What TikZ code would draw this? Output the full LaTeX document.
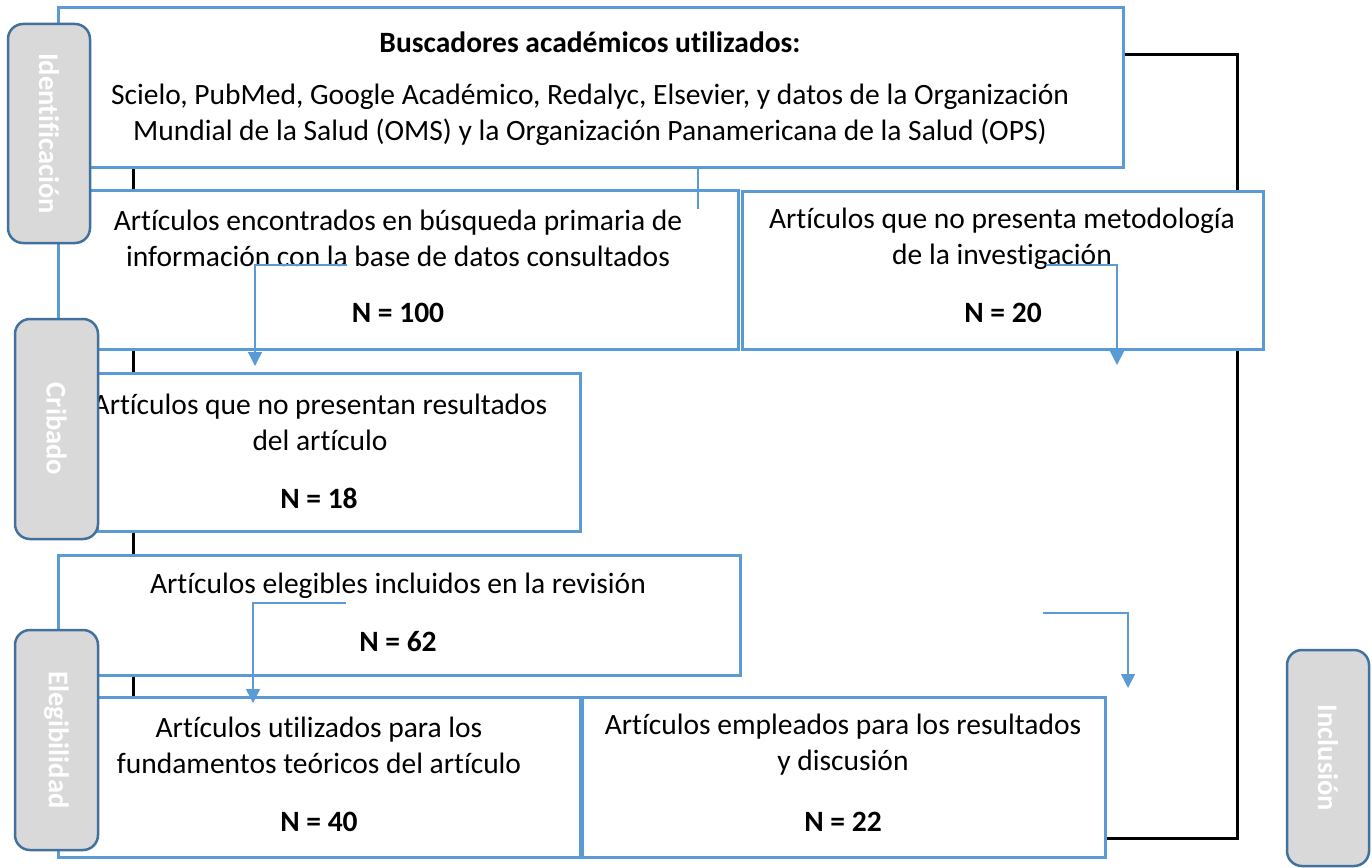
\documentclass[tikz,border=0pt]{standalone}
\usepackage{fontspec}
\setmainfont[Ligatures={NoCommon}]{Carlito}
\usetikzlibrary{arrows.meta}
\definecolor{boxblue}{HTML}{5B9BD5}
\definecolor{sideedge}{HTML}{41719C}
\definecolor{sidefill}{HTML}{D9D9D9}
\begin{document}
\begin{tikzpicture}[x=1pt,y=-1pt,
  box/.style={draw=boxblue,line width=3pt,fill=white,inner sep=0pt},
  sidebox/.style={draw=sideedge,line width=2.5pt,fill=sidefill,rounded corners=15pt,rotate=-90,
     text=white,font=\fontsize{28.5}{32}\selectfont\bfseries,inner sep=0pt},
  txt/.style={align=center,font=\fontsize{29.5}{36}\selectfont,inner sep=0pt},
  num/.style={font=\fontsize{29.5}{36}\selectfont\bfseries,inner sep=0pt},
  blk/.style={draw=black,line width=3pt},
  conn/.style={draw=boxblue,line width=1.5pt},
  arr/.style={conn,-{Triangle[width=14pt,length=14pt]}}]
\useasboundingbox (0,0) rectangle (1372,867);
% coordinates for the black frame
\coordinate (lt) at (133,167);
\coordinate (lb) at (133,697);
\coordinate (rt) at (1123,55);
\coordinate (rc) at (1237,55);
\coordinate (rd) at (1237,838);
\coordinate (rb) at (1105,838);
\draw[blk] (lt) -- (lb);
\draw[blk] (rt) -- (rc) -- (rd) -- (rb);
% boxes
\node[box,minimum width=1065,minimum height=159] (b1) at (590.5,87.5) {};
\node[box,minimum width=680,minimum height=159] (b2) at (398,269.5) {};
\node[box,minimum width=521,minimum height=158] (b3) at (1002.5,270) {};
\node[box,minimum width=483,minimum height=158] (b4) at (338.5,452) {};
\node[box,minimum width=682,minimum height=120] (b5) at (399,615) {};
\node[box,minimum width=522,minimum height=160] (b6) at (319,777) {};
\node[box,minimum width=523,minimum height=160] (b7) at (843.5,777) {};
% texts
\node[num] (t1a) at (590,42) {Buscadores académicos utilizados:};
\node[txt] (t1b) at (590,115) {Scielo, PubMed, Google Académico, Redalyc, Elsevier, y datos de la Organización\\Mundial de la Salud (OMS) y la Organización Panamericana de la Salud (OPS)};
\node[txt] (t2a) at (398,238.5) {Artículos encontrados en búsqueda primaria de\\información con la base de datos consultados};
\node[num] (t2b) at (398,313) {N = 100};
\node[txt] (t3a) at (1002,238.5) {Artículos que no presenta metodología\\de la investigación};
\node[num] (t3b) at (1003,313) {N = 20};
\node[txt] (t4a) at (320,422.5) {Artículos que no presentan resultados\\del artículo};
\node[num] (t4b) at (319,498) {N = 18};
\node[txt] (t5a) at (398,586) {Artículos elegibles incluidos en la revisión};
\node[num] (t5b) at (398,642) {N = 62};
\node[txt] (t6a) at (319,745) {Artículos utilizados para los\\fundamentos teóricos del artículo};
\node[num] (t6b) at (319,822) {N = 40};
\node[txt] (t7a) at (843,745) {Artículos empleados para los resultados\\y discusión};
\node[num] (t7b) at (843,822) {N = 22};
% side labels
\node[sidebox,minimum width=219,minimum height=82] (s1) at (49,133.5) {Identificación};
\node[sidebox,minimum width=220,minimum height=83] (s2) at (56.5,429) {Cribado};
\node[sidebox,minimum width=220,minimum height=83] (s3) at (56.5,740) {Elegibilidad};
\node[sidebox,minimum width=216,minimum height=82] (s4) at (1328,758) {Inclusión};
% connectors
\coordinate (c0s) at (698,167);
\coordinate (c0e) at (698,209);
\draw[conn] (c0s) -- (c0e);
\coordinate (a1s) at (347,265);
\coordinate (a1e) at (255,366);
\draw[arr] (a1s) -| (a1e);
\coordinate (a2s) at (1046,265);
\coordinate (a2e) at (1117,365);
\draw[arr] (a2s) -| (a2e);
\coordinate (a3s) at (346,603);
\coordinate (a3e) at (253,703);
\draw[arr] (a3s) -| (a3e);
\coordinate (a4s) at (1043,613);
\coordinate (a4e) at (1128,688);
\draw[arr] (a4s) -| (a4e);
\end{tikzpicture}
\end{document}
